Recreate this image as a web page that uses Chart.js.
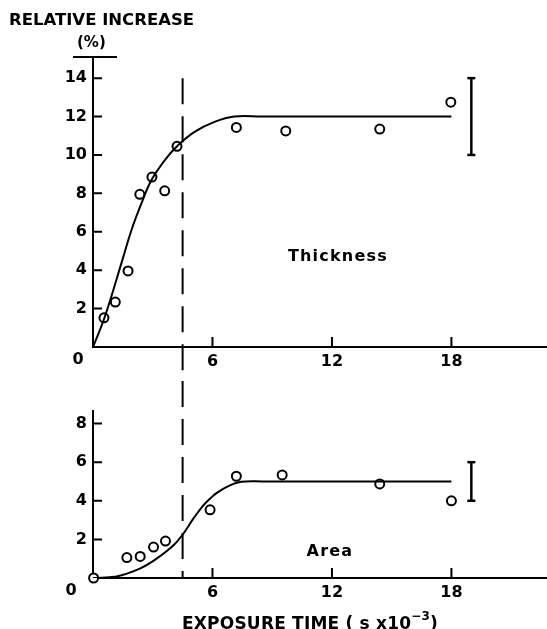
<!DOCTYPE html>
<html>
<head>
<meta charset="utf-8">
<script src="https://cdn.jsdelivr.net/npm/chart.js@4.4.1/dist/chart.umd.min.js"></script>
<style>
  html, body { margin: 0; padding: 0; background: #fff; }
  #wrap { position: relative; width: 547px; height: 629px; overflow: hidden; font-family: "DejaVu Sans", sans-serif; font-weight: bold; color: #000; }
  #topChart { position: absolute; left: 0; top: 0; }
  #bottomChart { position: absolute; left: 0; top: 380px; }
  .txt { position: absolute; white-space: nowrap; font-size: 16.5px; line-height: 1; }
  #yTitle { left: 9px; top: 12px; }
  #yUnit { left: 77px; top: 35px; font-size: 15px; }
  #xTitle { left: 182px; top: 612px; z-index: 2; font-size: 17px; letter-spacing: 0.2px; }
  #xTitle sup { font-size: 12px; position: relative; top: -2px; }
</style>
</head>
<body>
<div id="wrap">
  <canvas id="topChart" width="547" height="380"></canvas>
  <canvas id="bottomChart" width="547" height="249"></canvas>
  <div class="txt" id="yTitle">RELATIVE INCREASE</div>
  <div class="txt" id="yUnit">(%)</div>
  <div class="txt" id="xTitle">EXPOSURE TIME ( s x10<sup>−3</sup>)</div>
</div>
<script>
// exposure time (s x 10^-3)
const xTicks = [6, 12, 18];
const dividerX = 4.5;

// thickness panel
const thickTicks = [2, 4, 6, 8, 10, 12, 14];
const thickX = [0.55, 1.12, 1.76, 2.35, 2.96, 3.6, 4.22, 7.2, 9.68, 14.4, 17.97];
const thickY = [1.52, 2.34, 3.96, 7.95, 8.85, 8.13, 10.45, 11.43, 11.25, 11.35, 12.75];
const thickFitX = [0, 0.59, 1.42, 1.93, 2.43, 2.93, 3.6, 4.27, 5.1, 6.1, 7.1, 8.5, 18];
const thickFitY = [0, 1.56, 4.34, 6.08, 7.47, 8.68, 9.72, 10.5, 11.2, 11.72, 12, 12, 12];
const thickErr = [10, 14];

// area panel
const areaTicks = [2, 4, 6, 8];
const areaX = [0.03, 0.53, 1.2, 1.7, 2.37, 3.04, 3.64, 5.88, 7.2, 9.5, 14.4, 18.0];
const areaY = [0, -0.42, -0.68, 1.06, 1.12, 1.6, 1.91, 3.53, 5.27, 5.34, 4.87, 4.0];
const areaFitX = [0, 1.17, 2.35, 3.19, 4.03, 4.53, 5.03, 5.53, 5.87, 6.2, 6.87, 7.45, 8.5, 18];
const areaFitY = [0, 0.08, 0.49, 1.0, 1.68, 2.29, 3.06, 3.75, 4.1, 4.4, 4.8, 4.98, 5, 5];
const areaErr = [4, 6];

const errX = 19;
const tickFont = { family: 'DejaVu Sans', size: 16, weight: 'bold' };

const pts = (xs, ys) => xs.map((x, i) => ({ x, y: ys[i] }));

// inner ticks, origin "0", dashed divider, panel name
const decor = {
  id: 'decor',
  afterDatasetsDraw(chart, args, o) {
    const { ctx, chartArea } = chart;
    const xs = chart.scales.x, ys = chart.scales.y;
    ctx.save();
    ctx.strokeStyle = '#000';
    ctx.lineWidth = 2;
    ctx.beginPath();
    ys.ticks.forEach(t => {
      const py = ys.getPixelForValue(t.value);
      ctx.moveTo(chartArea.left, py);
      ctx.lineTo(chartArea.left + 9, py);
    });
    xs.ticks.forEach(t => {
      const px = xs.getPixelForValue(t.value);
      ctx.moveTo(px, chartArea.bottom);
      ctx.lineTo(px, chartArea.bottom - 10);
    });
    if (o.cap) {
      ctx.moveTo(chartArea.left - 20, chartArea.top);
      ctx.lineTo(chartArea.left + 24, chartArea.top);
    }
    ctx.stroke();

    // dashed divider
    const dx = xs.getPixelForValue(dividerX);
    const y0 = o.dashFrom != null ? ys.getPixelForValue(o.dashFrom) : 0;
    const y1 = o.dashToBottom ? chart.height : chartArea.bottom;
    ctx.setLineDash([26, 12]);
    ctx.lineDashOffset = o.dashOffset || 0;
    ctx.lineWidth = 2;
    ctx.beginPath();
    ctx.moveTo(dx, y0);
    ctx.lineTo(dx, y1);
    ctx.stroke();
    ctx.setLineDash([]);

    ctx.fillStyle = '#000';
    ctx.font = 'bold 16px "DejaVu Sans"';
    ctx.textAlign = 'center';
    ctx.textBaseline = 'middle';
    ctx.fillText('0', chartArea.left + o.originDx, chartArea.bottom + 13);

    ctx.letterSpacing = '1.2px';
    ctx.fillText(o.label, xs.getPixelForValue(o.labelX), ys.getPixelForValue(o.labelY));
    ctx.restore();
  }
};

function makeChart(id, cfg) {
  return new Chart(document.getElementById(id).getContext('2d'), {
    type: 'line',
    data: {
      datasets: [
        {
          data: pts(cfg.fitX, cfg.fitY),
          borderColor: '#000', borderWidth: 2, pointRadius: 0,
          tension: 0.4, fill: false
        },
        {
          data: pts(cfg.x, cfg.y),
          showLine: false, clip: false,
          pointStyle: 'circle', pointRadius: 4.5, borderWidth: 2,
          borderColor: '#000', backgroundColor: '#fff'
        },
        {
          data: pts([errX, errX], cfg.err),
          borderColor: '#000', borderWidth: 2.5,
          pointStyle: 'line', pointRadius: 4, pointBorderWidth: 2.5, clip: false
        }
      ]
    },
    options: {
      responsive: false,
      animation: false,
      events: [],
      layout: { autoPadding: false, padding: { top: cfg.padTop, left: 0, right: 0, bottom: 0 } },
      plugins: {
        legend: { display: false },
        tooltip: { enabled: false },
        decor: cfg.decor
      },
      scales: {
        x: {
          type: 'linear', min: 0, max: 22.8,
          afterBuildTicks: s => { s.ticks = xTicks.map(v => ({ value: v })); },
          afterFit: s => { s.height = cfg.xHeight; s.paddingLeft = 0; s.paddingRight = 0; },
          grid: { display: false, drawTicks: false },
          border: { display: true, color: '#000', width: 2 },
          ticks: { color: '#000', font: tickFont, padding: 5, maxRotation: 0 }
        },
        y: {
          type: 'linear', min: 0, max: cfg.yMax,
          afterBuildTicks: s => { s.ticks = cfg.yTicks.map(v => ({ value: v })); },
          afterFit: s => { s.width = 93; s.paddingTop = 0; s.paddingBottom = 0; },
          grid: { display: false, drawTicks: false },
          border: { display: true, color: '#000', width: 2 },
          ticks: { color: '#000', font: tickFont, padding: 6 }
        }
      }
    },
    plugins: [decor]
  });
}

makeChart('topChart', {
  fitX: thickFitX, fitY: thickFitY, x: thickX, y: thickY, err: thickErr,
  yTicks: thickTicks, yMax: 15.1, padTop: 57, xHeight: 33,
  decor: { label: 'Thickness', labelX: 12.3, labelY: 4.7, originDx: -15, cap: true, dashFrom: 14, dashToBottom: true }
});

makeChart('bottomChart', {
  fitX: areaFitX, fitY: areaFitY, x: areaX, y: areaY, err: areaErr,
  yTicks: areaTicks, yMax: 8.65, padTop: 31, xHeight: 51,
  decor: { label: 'Area', labelX: 11.9, labelY: 1.34, originDx: -22, cap: false, dashOffset: 303 }
});
</script>
</body>
</html>
